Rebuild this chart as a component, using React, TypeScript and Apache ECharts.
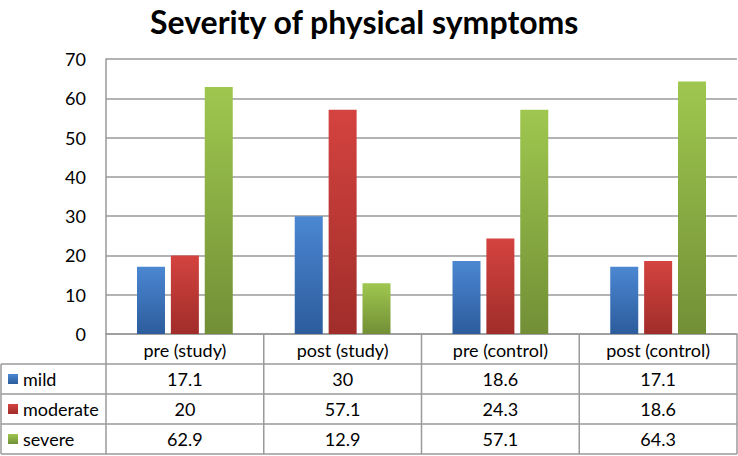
import React, { useEffect, useRef } from "react";
import * as echarts from "echarts";

const categories = ["pre (study)", "post (study)", "pre (control)", "post (control)"];
const seriesNames = ["mild", "moderate", "severe"];
const mild = [17.1, 30, 18.6, 17.1];
const moderate = [20, 57.1, 24.3, 18.6];
const severe = [62.9, 12.9, 57.1, 64.3];
const yTicks = [0, 10, 20, 30, 40, 50, 60, 70];

const FONT = "Lato";
const W = 738;
const H = 456;
const GL = 106;
const GR = 737;
const GT = 59;
const GB = 334;
const ROW = 30;
const LINE = "#9a9a9a";

const grads = [
  ["#4b87d2", "#2c5c9c"],
  ["#d4433f", "#a02d2a"],
  ["#9fc74f", "#728f36"],
];

function grad(i: number) {
  return new echarts.graphic.LinearGradient(0, 0, 0, 1, [
    { offset: 0, color: grads[i][0] },
    { offset: 1, color: grads[i][1] },
  ]);
}

export default function App() {
  const ref = useRef<HTMLDivElement>(null);
  useEffect(() => {
    if (!ref.current) return;
    const chart = echarts.init(ref.current, undefined, { renderer: "svg" });
    const values = [mild, moderate, severe];
    const colW = (GR - GL) / categories.length;
    const graphics: any[] = [];
    const ls = { stroke: LINE, lineWidth: 1.5 };
    for (let r = 1; r <= 4; r++) {
      graphics.push({ type: "line", shape: { x1: 1, y1: GB + r * ROW, x2: GR, y2: GB + r * ROW }, style: ls, z: 10 });
    }
    graphics.push({ type: "line", shape: { x1: 1, y1: GB + ROW, x2: 1, y2: GB + 4 * ROW }, style: ls, z: 10 });
    graphics.push({ type: "line", shape: { x1: GL, y1: GB, x2: GL, y2: GB + 4 * ROW }, style: ls, z: 10 });
    for (let c = 1; c <= categories.length; c++) {
      const x = GL + c * colW;
      graphics.push({ type: "line", shape: { x1: x, y1: GB, x2: x, y2: GB + 4 * ROW }, style: ls, z: 10 });
    }
    seriesNames.forEach((name, si) => {
      const cy = GB + (si + 1) * ROW + ROW / 2;
      graphics.push({
        type: "rect",
        shape: { x: 8, y: cy - 5, width: 10, height: 10 },
        style: { fill: grad(si) },
        z: 10,
      });
      graphics.push({
        type: "text",
        x: 23,
        y: cy,
        style: { text: name, font: `18px ${FONT}`, fill: "#000", textVerticalAlign: "middle", textAlign: "left" },
        z: 10,
      });
      values[si].forEach((v, ci) => {
        graphics.push({
          type: "text",
          x: GL + ci * colW + colW / 2,
          y: cy,
          style: { text: String(v), font: `18px ${FONT}`, fill: "#000", textVerticalAlign: "middle", textAlign: "center" },
          z: 10,
        });
      });
    });

    chart.setOption({
      animation: false,
      backgroundColor: "#fff",
      title: {
        text: "Severity of physical symptoms",
        left: 145,
        top: 0,
        textStyle: { fontFamily: FONT, fontWeight: "bold", fontSize: 32, color: "#000" },
      },
      grid: { left: GL, right: W - GR, top: GT, bottom: H - GB },
      xAxis: {
        type: "category",
        data: categories,
        axisLine: { show: true, lineStyle: { color: LINE, width: 1.5 } },
        axisTick: { show: false },
        axisLabel: { fontFamily: FONT, fontSize: 18, color: "#000", margin: 7 },
      },
      yAxis: {
        type: "value",
        min: 0,
        max: 70,
        interval: 10,
        axisLine: { show: true, lineStyle: { color: LINE, width: 1.5 } },
        axisTick: { show: false },
        splitLine: { lineStyle: { color: LINE, width: 1.5 } },
        axisLabel: { fontFamily: FONT, fontSize: 18, color: "#000", margin: 20, customValues: yTicks },
      },
      series: seriesNames.map((n, i) => ({
        name: n,
        type: "bar",
        data: values[i],
        barWidth: 28,
        barGap: "21%",
        itemStyle: { color: grad(i) },
      })),
      graphic: graphics,
    });
    return () => chart.dispose();
  }, []);
  return <div ref={ref} style={{ position: "fixed", left: 0, top: 0, width: W, height: H }} />;
}
